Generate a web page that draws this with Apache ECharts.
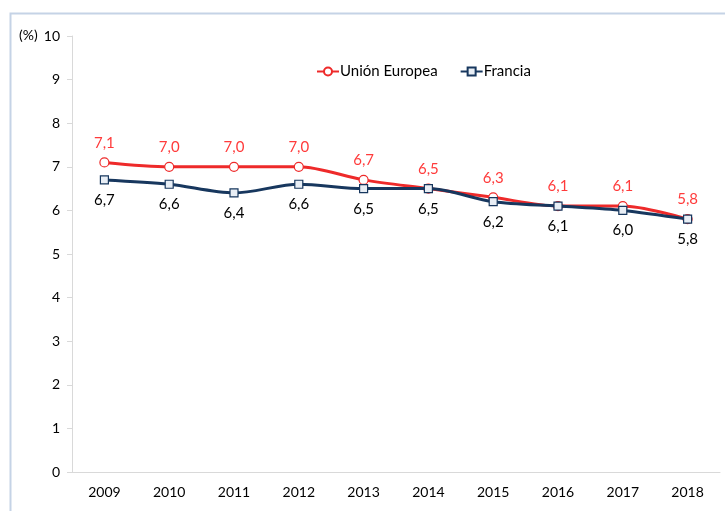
<!DOCTYPE html>
<html>
<head>
<meta charset="utf-8">
<script src="https://cdn.jsdelivr.net/npm/echarts@6/dist/echarts.min.js"></script>
<style>
  html, body { margin: 0; padding: 0; background: #fff; }
  #chart { width: 725px; height: 511px; }
</style>
</head>
<body>
<div id="chart"></div>
<script>
var years = ['2009', '2010', '2011', '2012', '2013', '2014', '2015', '2016', '2017', '2018']
var ue = [7.1, 7.0, 7.0, 7.0, 6.7, 6.5, 6.3, 6.1, 6.1, 5.8]
var francia = [6.7, 6.6, 6.4, 6.6, 6.5, 6.5, 6.2, 6.1, 6.0, 5.8]

var fmt = function (p) { return p.value.toFixed(1).replace('.', ',') }
var font = 'Lato, "Open Sans", sans-serif'

var chart = echarts.init(document.getElementById('chart'))
chart.setOption({
    textStyle: { fontFamily: font },
    graphic: [{
        type: 'rect',
        shape: { x: 10.5, y: 13.5, width: 730, height: 520 },
        style: { fill: 'none', stroke: '#c5d3e6', lineWidth: 2 },
        silent: true
    }, {
        type: 'text',
        left: 19, top: 28,
        style: { text: '(%)', fontSize: 14, fill: '#000', fontFamily: font }
    }],
    legend: {
        top: 59,
        left: 311,
        itemGap: 22,
        itemWidth: 22,
        itemHeight: 10,
        textStyle: { fontSize: 15, color: '#000', padding: [0, 0, 0, -4] },
        data: ['Unión Europea', 'Francia']
    },
    grid: { left: 72, right: 5, top: 36, bottom: 39 },
    xAxis: {
        type: 'category',
        data: years,
        axisLine: { lineStyle: { color: '#d9d9d9' } },
        axisTick: { length: 5, lineStyle: { color: '#d9d9d9' } },
        axisLabel: { color: '#000', fontSize: 14, margin: 13 }
    },
    yAxis: {
        type: 'value',
        min: 0, max: 10, interval: 1,
        axisLine: { show: true, lineStyle: { color: '#d9d9d9' } },
        axisTick: { show: true, length: 5, lineStyle: { color: '#d9d9d9' } },
        axisLabel: { color: '#000', fontSize: 14, margin: 12 },
        splitLine: { show: false }
    },
    series: [{
        name: 'Unión Europea',
        type: 'line',
        smooth: 0.3,
        data: ue,
        symbol: 'circle',
        symbolSize: 9,
        z: 2,
        lineStyle: { color: '#ee2a2a', width: 3 },
        itemStyle: { color: '#fff', borderColor: '#ee2a2a', borderWidth: 1.2 },
        label: { show: true, position: 'top', distance: 7, color: '#ff3b3b', fontSize: 15, formatter: fmt }
    }, {
        name: 'Francia',
        type: 'line',
        smooth: 0.3,
        data: francia,
        symbol: 'rect',
        symbolSize: 8,
        z: 3,
        lineStyle: { color: '#17375e', width: 3 },
        itemStyle: { color: '#e8eef5', borderColor: '#17375e', borderWidth: 1.2 },
        label: { show: true, position: 'bottom', distance: 8, color: '#000', fontSize: 15, formatter: fmt }
    }]
})
</script>
</body>
</html>
